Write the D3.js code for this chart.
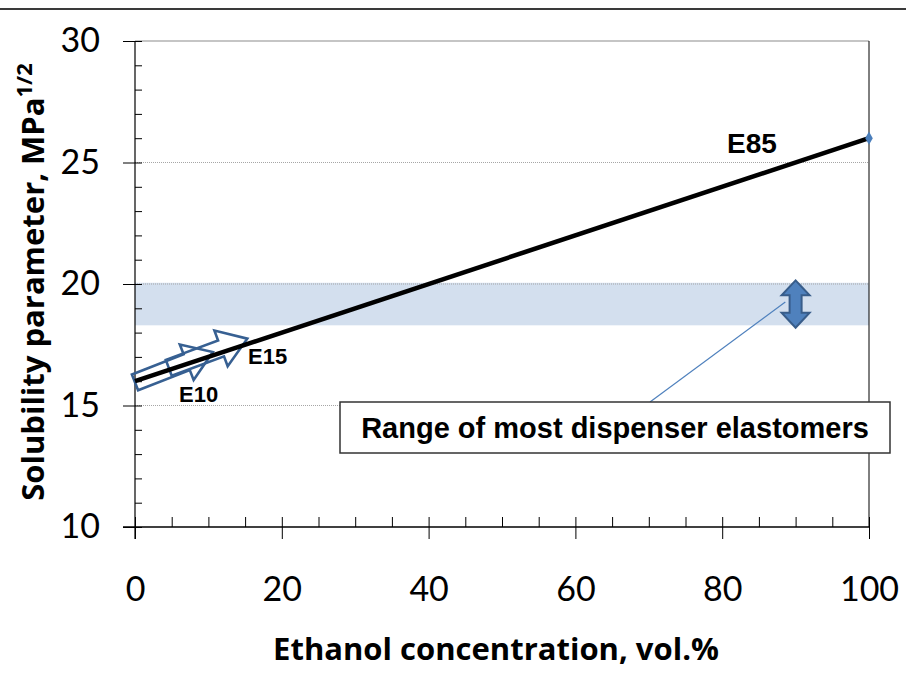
<!DOCTYPE html>
<html>
<head>
<meta charset="utf-8">
<script src="https://cdn.jsdelivr.net/npm/d3@7"></script>
<style>
  body { margin: 0; background: #fff; }
</style>
</head>
<body>
<div id="chart"></div>
<script>
// chart data
const ethanol = [0, 100];
const solubility = [16, 26];
const xTicks = [0, 20, 40, 60, 80, 100];
const yTicks = [10, 15, 20, 25, 30];
const gridValues = [15, 20, 25, 30];
// elastomer range band
const bandLow = 18.3;
const bandHigh = 20.05;
// blend arrows: start/end on the line (x, y)
const blendArrows = [
  { label: "E10", x0: 0, y0: 15.95, x1: 10.6, y1: 17.2 },
  { label: "E15", x0: 4.6, y0: 16.55, x1: 15.3, y1: 17.75 }
];
const rangeArrow = { x: 90, y0: 18.2, y1: 20.15 };

const width = 906, height = 677;
const margin = { top: 41, right: 37, bottom: 150, left: 135 };

const svg = d3.select("#chart")
  .append("svg")
  .attr("width", width)
  .attr("height", height);

const x = d3.scaleLinear().domain([0, 100]).range([margin.left, width - margin.right]);
const y = d3.scaleLinear().domain([10, 30]).range([height - margin.bottom, margin.top]);

// top border line of the figure
svg.append("line")
  .attr("x1", 0).attr("x2", width)
  .attr("y1", 9).attr("y2", 9)
  .attr("stroke", "#3a3a3a")
  .attr("stroke-width", 2);

// blue band
svg.append("rect")
  .attr("x", x(0))
  .attr("y", y(bandHigh))
  .attr("width", x(100) - x(0))
  .attr("height", y(bandLow) - y(bandHigh))
  .attr("fill", "#d3dfee");

// dotted horizontal gridlines
svg.selectAll(".grid")
  .data(gridValues)
  .enter()
  .append("line")
  .attr("class", "grid")
  .attr("x1", x(0)).attr("x2", x(100))
  .attr("y1", (d) => y(d)).attr("y2", (d) => y(d))
  .attr("stroke", (d) => d === 30 ? "#8c8c8c" : "#a6a6a6")
  .attr("stroke-width", 1.2)
  .attr("stroke-dasharray", (d) => d === 30 ? null : "1,1");

// right border of plot area
svg.append("line")
  .attr("x1", x(100)).attr("x2", x(100))
  .attr("y1", y(30)).attr("y2", y(10))
  .attr("stroke", "#000")
  .attr("stroke-width", 1);

// minor ticks (inside)
svg.append("g")
  .attr("transform", `translate(0,${y(10)})`)
  .call(d3.axisBottom(x).tickValues(d3.range(0, 101, 5)).tickSize(-10).tickSizeOuter(0).tickFormat(""))
  .call((g) => g.select(".domain").remove());
svg.append("g")
  .attr("transform", `translate(${x(0)},0)`)
  .call(d3.axisLeft(y).tickValues(d3.range(10, 31, 1)).tickSize(-7).tickSizeOuter(0).tickFormat(""))
  .call((g) => g.select(".domain").remove());

// x axis
svg.append("g")
  .attr("class", "xaxis")
  .attr("transform", `translate(0,${y(10)})`)
  .call(d3.axisBottom(x).tickValues(xTicks).tickSize(12).tickSizeOuter(0).tickPadding(38))
  .attr("font-family", "Lato, 'Open Sans', sans-serif")
  .attr("font-size", "34px")
  .call((g) => g.selectAll("text").attr("fill", "#000"))
  .call((g) => g.select(".domain").attr("stroke-width", 1.5).attr("d", `M${x(0) - 12},0H${x(100)}`));

// y axis
svg.append("g")
  .attr("class", "yaxis")
  .attr("transform", `translate(${x(0)},0)`)
  .call(d3.axisLeft(y).tickValues(yTicks).tickSize(12).tickSizeOuter(0).tickPadding(23))
  .attr("font-family", "Lato, 'Open Sans', sans-serif")
  .attr("font-size", "34px")
  .call((g) => g.selectAll("text").attr("fill", "#000"))
  .call((g) => g.select(".domain").attr("stroke-width", 1.2).attr("d", `M0,${y(30)}V${y(10) + 12}`));

// axis titles
const titleFont = "'Open Sans', 'Noto Sans', sans-serif";
svg.append("text")
  .attr("x", 496)
  .attr("y", 660)
  .attr("text-anchor", "middle")
  .attr("font-family", titleFont)
  .attr("font-weight", "bold")
  .attr("font-size", "31px")
  .text("Ethanol concentration, vol.%");

const yTitle = svg.append("text")
  .attr("transform", "translate(44,282) rotate(-90)")
  .attr("text-anchor", "middle")
  .attr("font-family", titleFont)
  .attr("font-weight", "bold")
  .attr("font-size", "31px");
yTitle.append("tspan").text("Solubility parameter, MPa");
yTitle.append("tspan").attr("dy", -12).attr("font-size", "22px").text("1/2");

// hollow blend arrows
const arrowPath = (a) => {
  const sx = x(a.x0), sy = y(a.y0), ex = x(a.x1), ey = y(a.y1);
  const len = Math.hypot(ex - sx, ey - sy);
  const ang = Math.atan2(ey - sy, ex - sx) * 180 / Math.PI;
  const hw = 8.5, headW = 19, headL = 28;
  const pts = [[0, -hw], [len - headL, -hw], [len - headL, -headW], [len, 0],
               [len - headL, headW], [len - headL, hw], [0, hw]];
  return { d: "M" + pts.map((p) => p.join(",")).join("L") + "Z",
           transform: `translate(${sx},${sy}) rotate(${ang})` };
};
svg.selectAll(".blend")
  .data(blendArrows)
  .enter()
  .append("path")
  .attr("class", "blend")
  .attr("d", (d) => arrowPath(d).d)
  .attr("transform", (d) => arrowPath(d).transform)
  .attr("fill", "none")
  .attr("stroke", "#376092")
  .attr("stroke-width", 2.6)
  .attr("stroke-linejoin", "miter");

// the line itself
const line = d3.line()
  .x((d) => x(d[0]))
  .y((d) => y(d[1]));
const pts = ethanol.map((e, i) => [e, solubility[i]]);
svg.append("path")
  .datum(pts)
  .attr("d", line)
  .attr("fill", "none")
  .attr("stroke", "#000")
  .attr("stroke-width", 4.5);

// end marker
svg.append("path")
  .attr("d", d3.symbol(d3.symbolDiamond, 50)())
  .attr("transform", `translate(${x(100)},${y(26)})`)
  .attr("fill", "#4a7ebb");

// labels
const annotFont = "'Liberation Sans', Arial, sans-serif";
svg.append("text").attr("x", 727).attr("y", 153)
  .attr("font-family", annotFont).attr("font-weight", "bold").attr("font-size", "28px")
  .text("E85");
svg.append("text").attr("x", 179).attr("y", 402)
  .attr("font-family", annotFont).attr("font-weight", "bold").attr("font-size", "22px")
  .text("E10");
svg.append("text").attr("x", 248).attr("y", 364)
  .attr("font-family", annotFont).attr("font-weight", "bold").attr("font-size", "22px")
  .text("E15");

// leader line
svg.append("line")
  .attr("x1", 650).attr("y1", 402)
  .attr("x2", x(88.6)).attr("y2", y(19.26))
  .attr("stroke", "#4f81bd")
  .attr("stroke-width", 1.2);

// double arrow for range
{
  const cx = x(rangeArrow.x), top = y(rangeArrow.y1), bot = y(rangeArrow.y0);
  const sw = 6, hw = 14, hl = 15;
  const d = `M${cx},${top}L${cx + hw},${top + hl}L${cx + sw},${top + hl}L${cx + sw},${bot - hl}` +
            `L${cx + hw},${bot - hl}L${cx},${bot}L${cx - hw},${bot - hl}L${cx - sw},${bot - hl}` +
            `L${cx - sw},${top + hl}L${cx - hw},${top + hl}Z`;
  svg.append("path")
    .attr("d", d)
    .attr("fill", "#4f81bd")
    .attr("stroke", "#385d8a")
    .attr("stroke-width", 2);
}

// annotation box
svg.append("rect")
  .attr("x", 340).attr("y", 402)
  .attr("width", 550).attr("height", 51)
  .attr("fill", "#fff")
  .attr("stroke", "#333")
  .attr("stroke-width", 1.5);
svg.append("text")
  .attr("x", 615).attr("y", 438)
  .attr("text-anchor", "middle")
  .attr("font-family", annotFont).attr("font-weight", "bold").attr("font-size", "29px")
  .text("Range of most dispenser elastomers");
</script>
</body>
</html>
